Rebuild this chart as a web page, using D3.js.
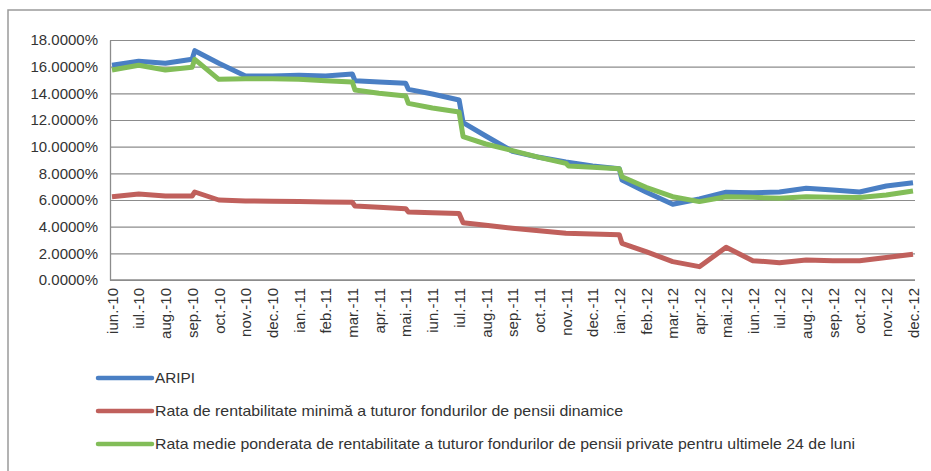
<!DOCTYPE html>
<html>
<head>
<meta charset="utf-8">
<script src="https://cdn.jsdelivr.net/npm/d3@7"></script>
<style>
  body { margin: 0; background: #fff; }
  svg { display: block; font-family: "Liberation Sans", Arial, sans-serif; }
  .axis path, .axis line { stroke: #8c8c8c; }
  .axis text { fill: #333; font-size: 15px; }
  .grid line { stroke: #8c8c8c; stroke-width: 1.2; }
  .grid path { display: none; }
  .legend text { fill: #333; font-size: 14.5px; }
</style>
</head>
<body>
<svg id="chart" width="931" height="471"></svg>
<script>
// categories (one per month)
const months = ['iun.-10','iul.-10','aug.-10','sep.-10','oct.-10','nov.-10','dec.-10',
  'ian.-11','feb.-11','mar.-11','apr.-11','mai.-11','iun.-11','iul.-11','aug.-11','sep.-11',
  'oct.-11','nov.-11','dec.-11','ian.-12','feb.-12','mar.-12','apr.-12','mai.-12','iun.-12',
  'iul.-12','aug.-12','sep.-12','oct.-12','nov.-12','dec.-12'];

const yTicks = [0, 2, 4, 6, 8, 10, 12, 14, 16, 18];

// series: [month index, value %]; a second point just after a month = step at recalculation
const aripi = [
  [0,16.1],[1,16.4],[2,16.25],[3,16.55],[3.1,17.2],[4,16.25],[5,15.3],[6,15.3],[7,15.35],
  [8,15.3],[9,15.45],[9.1,14.95],[10,14.85],[11,14.75],[11.1,14.3],[12,13.95],[13,13.5],
  [13.15,11.8],[14,10.8],[15,9.65],[16,9.2],[17,8.85],[18,8.55],[19,8.35],[19.1,7.5],
  [20,6.6],[21,5.68],[22,6.08],[23,6.58],[24,6.55],[25,6.6],[26,6.88],[27,6.75],[28,6.6],
  [29,7.05],[30,7.3]
];
const rataMinima = [
  [0,6.25],[1,6.45],[2,6.3],[3,6.3],[3.1,6.6],[4,6.0],[5,5.93],[6,5.9],[7,5.88],[8,5.85],
  [9,5.83],[9.1,5.55],[10,5.45],[11,5.35],[11.1,5.1],[12,5.05],[13,4.98],[13.15,4.3],
  [14,4.1],[15,3.88],[16,3.7],[17,3.5],[18,3.45],[19,3.4],[19.1,2.75],[20,2.13],[21,1.38],
  [22,1.0],[23,2.45],[24,1.45],[25,1.3],[26,1.5],[27,1.45],[28,1.45],[29,1.68],[30,1.93]
];
const rataMedie = [
  [0,15.75],[1,16.1],[2,15.75],[3,15.95],[3.1,16.55],[4,15.05],[5,15.1],[6,15.1],[7,15.05],
  [8,14.95],[9,14.85],[9.1,14.25],[10,14.0],[11,13.8],[11.1,13.25],[12,12.9],[13,12.6],
  [13.15,10.75],[14,10.2],[15,9.7],[16,9.2],[17,8.75],[17.1,8.55],[18,8.45],[19,8.35],
  [19.1,7.75],[20,6.95],[21,6.25],[22,5.88],[23,6.25],[24,6.2],[25,6.13],[26,6.25],
  [27,6.2],[28,6.18],[29,6.38],[30,6.68]
];

const series = [
  { name: 'ARIPI', values: aripi, color: '#4a7fc4' },
  { name: 'Rata de rentabilitate minimă a tuturor fondurilor de pensii dinamice', values: rataMinima, color: '#c0605c' },
  { name: 'Rata medie ponderata de rentabilitate a tuturor fondurilor de pensii private pentru ultimele 24 de luni', values: rataMedie, color: '#82bd58' }
];
const legendWidths = [40, 468, 700];

const svg = d3.select('#chart');

// outer frame (only left and top edges fall inside the picture)
svg.append('rect')
  .attr('x', 8).attr('y', 10)
  .attr('width', 1000).attr('height', 600)
  .attr('fill', 'none')
  .attr('stroke', '#9a9a9a')
  .attr('stroke-width', 1.5);

const plotLeft = 110, plotRight = 915, plotTop = 40, plotBottom = 280;

const x = d3.scaleLinear().domain([0, months.length - 1]).range([112, 913]);
const y = d3.scaleLinear().domain([0, 18]).range([plotBottom, plotTop]);

// horizontal gridlines
svg.append('g')
  .attr('class', 'grid')
  .attr('transform', `translate(${plotLeft},0)`)
  .call(d3.axisLeft(y).tickValues(yTicks).tickSize(-(plotRight - plotLeft)).tickFormat(''));

// y axis
const yAxis = svg.append('g')
  .attr('class', 'axis')
  .attr('transform', `translate(${plotLeft},0)`)
  .call(d3.axisLeft(y).tickValues(yTicks).tickSize(0).tickPadding(12)
    .tickFormat(d => d3.format('.4f')(d) + '%'));
yAxis.select('.domain').attr('stroke-width', 1.3);

// x axis
const xAxis = svg.append('g')
  .attr('class', 'axis')
  .attr('transform', `translate(0,${plotBottom})`)
  .call(d3.axisBottom(x).tickValues(d3.range(months.length)).tickSize(0)
    .tickFormat(i => months[i]));
xAxis.select('.domain').attr('d', `M${plotLeft},0H${plotRight}`).attr('stroke-width', 1.3);
xAxis.selectAll('text')
  .attr('transform', 'rotate(-90)')
  .attr('text-anchor', 'end')
  .attr('dx', '-8')
  .attr('dy', '0.35em')
  .attr('x', 0)
  .attr('y', 0);

// lines
const line = d3.line()
  .x(d => x(d[0]))
  .y(d => y(d[1]));

series.forEach(s => {
  svg.append('path')
    .datum(s.values)
    .attr('fill', 'none')
    .attr('stroke', s.color)
    .attr('stroke-width', 5)
    .attr('stroke-linejoin', 'round')
    .attr('d', line);
});

// legend
const legend = svg.append('g').attr('class', 'legend');
const legendY = [378, 411, 444];
series.forEach((s, i) => {
  legend.append('line')
    .attr('x1', 98).attr('x2', 152)
    .attr('y1', legendY[i]).attr('y2', legendY[i])
    .attr('stroke', s.color)
    .attr('stroke-width', 4.5)
    .attr('stroke-linecap', 'round');
  legend.append('text')
    .attr('x', 155)
    .attr('y', legendY[i])
    .attr('dy', '0.35em')
    .attr('textLength', legendWidths[i])
    .attr('lengthAdjust', 'spacingAndGlyphs')
    .text(s.name);
});
</script>
</body>
</html>
